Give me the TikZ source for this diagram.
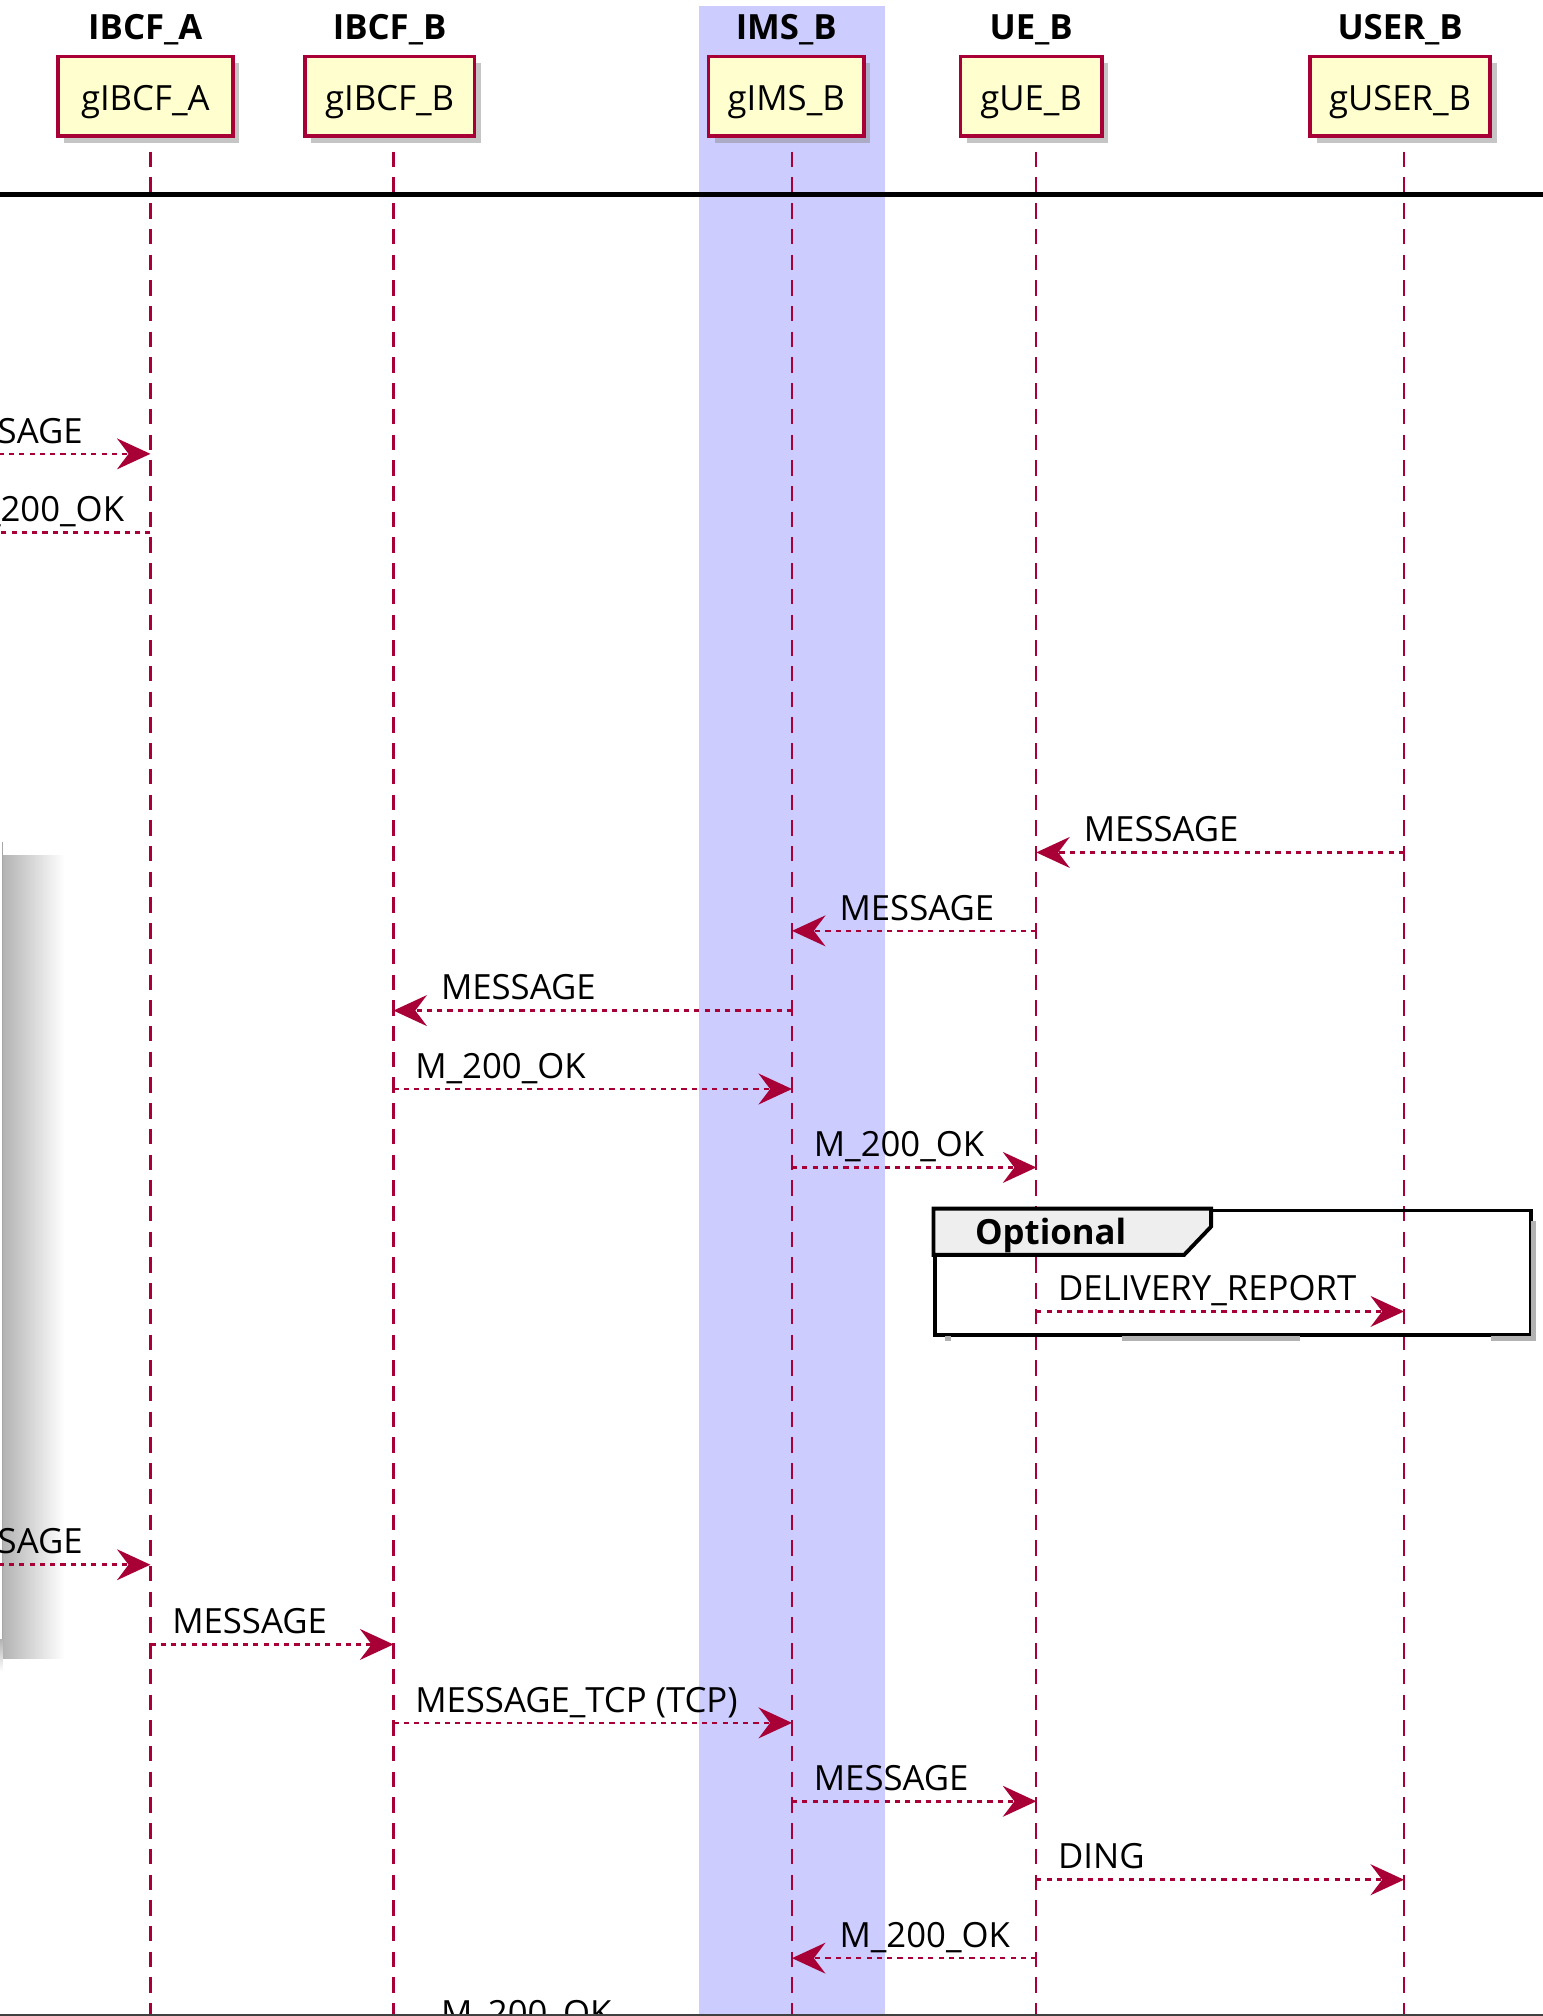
\documentclass[tikz,border=0pt]{standalone}
\usepackage{fontspec}
\setmainfont{Open Sans}
\usepackage{tikz}
\usetikzlibrary{arrows.meta, positioning, shadows}

\definecolor{plum}{HTML}{A80036}
\definecolor{partfill}{HTML}{FEFECE}
\definecolor{boxband}{HTML}{CCCCFF}
\definecolor{tabgray}{HTML}{EEEEEE}

\begin{document}
\begin{tikzpicture}[
        x=0.5pt, y=-0.5pt,
        >={Stealth[length=13pt, width=12pt, inset=4.5pt]},
        font=\fontsize{13.5}{16}\selectfont,
        part/.style={draw=plum, fill=partfill, line width=1.5pt,
            minimum height=31pt, inner sep=0pt, text height=12pt, text depth=1pt,
            drop shadow={shadow xshift=2.5pt, shadow yshift=-2.5pt, fill=black!45, opacity=0.5}},
        head/.style={font=\fontsize{13.5}{16}\selectfont\bfseries, inner sep=0pt},
        life/.style={plum, line width=0.9pt, dash pattern=on 6pt off 4pt},
        msg/.style={->, plum, line width=1pt, dash pattern=on 2pt off 2pt},
        lr/.style={pos=0, anchor=base west, xshift=8pt, yshift=4.2pt, text=black, inner sep=0pt},
        ll/.style={pos=1, anchor=base west, xshift=18pt, yshift=4.2pt, text=black, inner sep=0pt}]

    \useasboundingbox (0,0) rectangle (1200,1568);
    \clip (0,0) rectangle (1200,1568);
    \fill [white] (0,0) rectangle (1200,1568);
    \fill [boxband] (544,5) rectangle (688,1568);

    % cut-off panel on the left
    \shade [left color=black!30, right color=white] (2,665) rectangle (50,1290);
    \shade [top color=black!30, bottom color=white] (-10,1275) rectangle (2,1300);
    \fill [white] (-10,655) rectangle (2,1275);
    \draw [black!35, line width=0.5pt] (2,655) -- (2,1275);

    % participants
    \node [part, minimum width=68pt]   (gA) at (113,75)   {gIBCF\_A};
    \node [part, minimum width=66pt]   (gB) at (303,75)   {gIBCF\_B};
    \node [part, minimum width=60.5pt] (gI) at (611.5,75) {gIMS\_B};
    \node [part, minimum width=55pt]   (gU) at (802,75)   {gUE\_B};
    \node [part, minimum width=70pt]   (gS) at (1089,75)  {gUSER\_B};

    \node [head] (hA) [above=3.5pt of gA] {IBCF\_A};
    \node [head] (hB) [above=3.5pt of gB] {IBCF\_B};
    \node [head] (hI) [above=3.5pt of gI] {IMS\_B};
    \node [head] (hU) [above=3.5pt of gU] {UE\_B};
    \node [head] (hS) [above=3.5pt of gS] {USER\_B};

    % lifelines
    \coordinate (tW) at (-73,118);
    \coordinate (tA) at (117,118);
    \coordinate (tB) at (306,118);
    \coordinate (tI) at (616,118);
    \coordinate (tU) at (806,118);
    \coordinate (tS) at (1092,118);
    \foreach \c in {tA, tB, tI, tU, tS}
        \draw [life] (\c) -- (\c |- 0,1568);

    \draw [line width=2pt] (0,151) -- (1200,151);

    % optional group
    \node [draw, line width=1.5pt, minimum width=231.5pt, minimum height=48.5pt,
           inner sep=0pt, anchor=north west] (opt) at (726,940) {};
    \draw [black!30, line width=2pt] (1193,950) -- (1193,1041)
        (873,1041) -- (1011,1041) (1160,1041) -- (1195,1041) (735,1041) -- (740,1041);
    \draw [fill=tabgray, line width=1.5pt] (opt.north west) -- ++(216,0) -- ++(0,14)
        -- ++(-21,22) -- (opt.west |- 0,976) -- cycle;
    \node [head, anchor=base west] (optl) at (758,968) {Optional};

    % messages
    \draw [msg] (tW |- 0,353)  -- node [lr] {MESSAGE} (tA |- 0,353);
    \draw [msg] (tA |- 0,414)  -- node [ll] {M\_200\_OK} (tW |- 0,414);
    \draw [msg] (tS |- 0,663)  -- node [ll] {MESSAGE} (tU |- 0,663);
    \draw [msg] (tU |- 0,724)  -- node [ll] {MESSAGE} (tI |- 0,724);
    \draw [msg] (tI |- 0,786)  -- node [ll] {MESSAGE} (tB |- 0,786);
    \draw [msg] (tB |- 0,847)  -- node [lr] {M\_200\_OK} (tI |- 0,847);
    \draw [msg] (tI |- 0,908)  -- node [lr] {M\_200\_OK} (tU |- 0,908);
    \draw [msg] (tU |- 0,1020) -- node [lr] {DELIVERY\_REPORT} (tS |- 0,1020);
    \draw [msg] (tW |- 0,1217) -- node [lr] {MESSAGE} (tA |- 0,1217);
    \draw [msg] (tA |- 0,1279) -- node [lr] {MESSAGE} (tB |- 0,1279);
    \draw [msg] (tB |- 0,1340) -- node [lr] {MESSAGE\_TCP (TCP)} (tI |- 0,1340);
    \draw [msg] (tI |- 0,1401) -- node [lr] {MESSAGE} (tU |- 0,1401);
    \draw [msg] (tU |- 0,1462) -- node [lr] {DING} (tS |- 0,1462);
    \draw [msg] (tU |- 0,1523) -- node [ll] {M\_200\_OK} (tI |- 0,1523);
    \draw [msg] (tI |- 0,1584) -- node [ll] {M\_200\_OK} (tB |- 0,1584);

    \draw [black!75, line width=0.6pt] (0,1567) -- (1200,1567);
\end{tikzpicture}
\end{document}
